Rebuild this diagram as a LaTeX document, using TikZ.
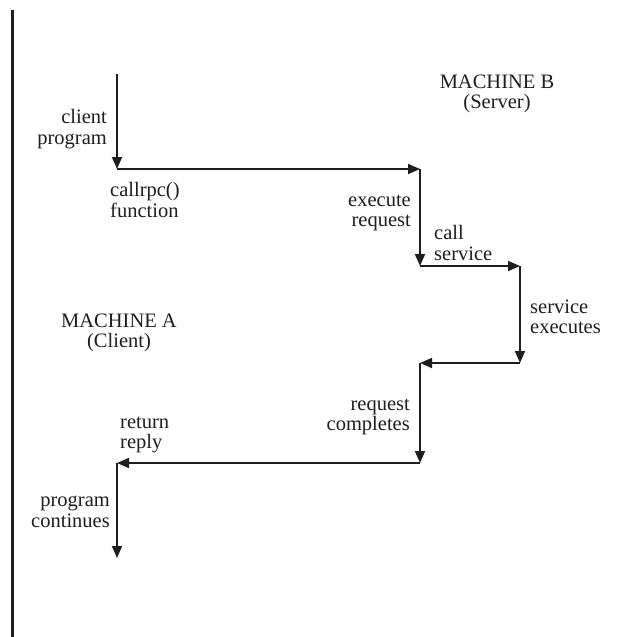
\documentclass[tikz,border=0pt]{standalone}
\usepackage{fontspec}
\setmainfont{Liberation Serif}
\usepackage{tikz}
\usetikzlibrary{arrows.meta}
\definecolor{rpcink}{RGB}{30,30,30}

\begin{document}
\begin{tikzpicture}[
  x=1pt, y=-1pt,
  lbl/.style={inner sep=0pt, text=rpcink,
              font=\fontsize{20.5}{20.5}\selectfont},
  arr/.style={-{Triangle[length=12pt,width=10pt]}, line width=1.8pt, rpcink},
  wall/.style={line width=3pt, rpcink}
]
\useasboundingbox (0,0) rectangle (619,637);
% the call path between the two machines
\coordinate (start) at (117,74);
\coordinate (call)  at (117,169);
\coordinate (recv)  at (420,169);
\coordinate (svc)   at (420,266);
\coordinate (run)   at (520,266);
\coordinate (done)  at (520,363);
\coordinate (back)  at (420,363);
\coordinate (rep)   at (420,463);
\coordinate (ret)   at (117,463);
\coordinate (cont)  at (117,558);
\coordinate (walltop) at (12,10);
\coordinate (wallbot) at (12,637);
\draw[wall] (walltop) -- (wallbot);
\draw[arr] (start) -- (call);
\draw[arr] (call) -- (recv);
\draw[arr] (recv) -- (svc);
\draw[arr] (svc) -- (run);
\draw[arr] (run) -- (done);
\draw[arr] (done) -- (back);
\draw[arr] (back) -- (rep);
\draw[arr] (rep) -- (ret);
\draw[arr] (ret) -- (cont);
% labels
\node[lbl, align=center] (machb) at (497,94) {MACHINE B\\(Server)};
\node[lbl, align=center] (macha) at (119,333) {MACHINE A\\(Client)};
\node[lbl, align=right, anchor=east] (client) at (107,129) {client\\program};
\node[lbl, align=left, anchor=west] (rpc) at (110,200) {callrpc()\\function};
\node[lbl, align=right, anchor=east] (exec) at (411,213) {execute\\request};
\node[lbl, align=left, anchor=west] (csvc) at (434,243) {call\\service};
\node[lbl, align=left, anchor=west] (sexec) at (530,317) {service\\executes};
\node[lbl, align=right, anchor=east] (rcomp) at (410,417) {request\\completes};
\node[lbl, align=left, anchor=west] (rrep) at (120,435) {return\\reply};
\node[lbl, align=right, anchor=east] (pcont) at (110,512) {program\\continues};
\end{tikzpicture}
\end{document}
